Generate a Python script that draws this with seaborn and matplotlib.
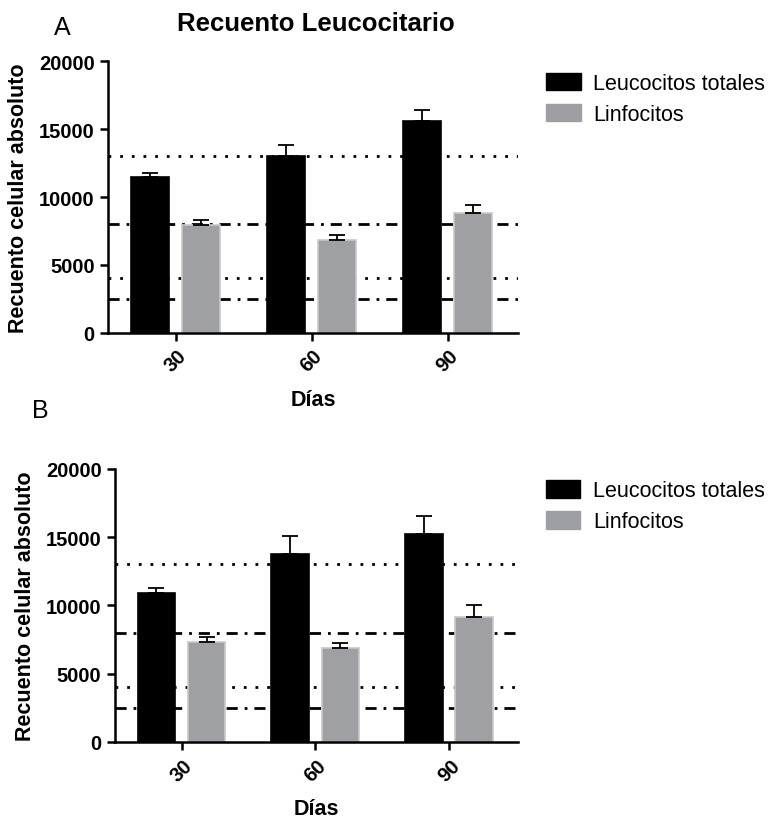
import numpy as np
import pandas as pd
import seaborn as sns
import matplotlib
matplotlib.use("Agg")
import matplotlib.pyplot as plt
from matplotlib.patches import Patch

# %% data
days = ["30", "60", "90"]
series = ["Leucocitos totales", "Linfocitos"]

leuco_a = [11500, 13000, 15600]
linfo_a = [7950, 6800, 8850]
leuco_a_err = [300, 850, 800]
linfo_a_err = [370, 420, 560]

leuco_b = [10900, 13800, 15250]
linfo_b = [7300, 6880, 9150]
leuco_b_err = [340, 1270, 1300]
linfo_b_err = [410, 390, 900]

dotted_refs = [13000, 4000]
dashdot_refs = [8000, 2500]

colors = ["#000000", "#9e9fa4"]

sns.set_style("white")
plt.rcParams["font.family"] = ["Liberation Sans", "DejaVu Sans"]
plt.rcParams["text.color"] = "k"
plt.rcParams["axes.labelcolor"] = "k"
plt.rcParams["xtick.color"] = "k"
plt.rcParams["ytick.color"] = "k"


def make_df(leuco, linfo, leuco_err, linfo_err):
    return pd.DataFrame(dict(
        dia=days * 2,
        serie=[series[0]] * 3 + [series[1]] * 3,
        valor=leuco + linfo,
        err=leuco_err + linfo_err,
    ))


def draw_panel(ax, df):
    for y in dotted_refs:
        ax.axhline(y, linestyle=(0, (1, 3.2)), color="k", lw=2.0, zorder=0)
    for y in dashdot_refs:
        ax.axhline(y, linestyle=(0, (4, 2.5, 1, 2.5)), color="k", lw=2.0, zorder=0)

    sns.barplot(
        data=df, x="dia", y="valor", hue="serie",
        palette=colors, width=0.75, gap=0.25,
        errorbar=None, edgecolor="k", linewidth=1.2,
        legend=False, ax=ax, zorder=2,
    )
    # error bars (upper only), positions taken from the bars
    bars = [p for p in ax.patches if p.get_height() > 0]
    bars = sorted(bars, key=lambda p: p.get_x())
    df_sorted = df.assign(order=[0, 2, 4, 1, 3, 5]).sort_values("order")
    for p, (_, row) in zip(bars, df_sorted.iterrows()):
        cx = p.get_x() + p.get_width() / 2
        ax.errorbar(cx, row.valor, yerr=[[0], [row.err]], color="k",
                    lw=1.3, capsize=6, capthick=1.3, zorder=3)
    for p in ax.patches:
        if p.get_facecolor()[0] > 0.3:
            p.set_edgecolor("#c8c8cc")

    ax.set_ylim(0, 20000)
    ax.set_xlim(-0.5, 2.52)
    ax.set_yticks(np.arange(0, 20001, 5000))
    sns.despine(ax=ax)
    for s in ["left", "bottom"]:
        ax.spines[s].set_linewidth(1.8)
        ax.spines[s].set_color("k")
    ax.tick_params(axis="both", which="major", direction="out", length=6,
                   width=1.8, color="k", labelsize=14.5, bottom=True, left=True)
    for lab in ax.get_yticklabels() + ax.get_xticklabels():
        lab.set_fontweight("bold")
    for lab in ax.get_xticklabels():
        lab.set_rotation(45)
        lab.set_ha("center")
    ax.set_xlabel("Días", fontsize=15.5, fontweight="bold", labelpad=10)
    ax.set_ylabel("Recuento celular absoluto", fontsize=15.5, fontweight="bold", labelpad=7)

    handles = [Patch(facecolor=c, edgecolor=c) for c in colors]
    ax.legend(handles, series, loc="upper left", bbox_to_anchor=(1.02, 1.03),
              frameon=False, fontsize=15.5, handlelength=1.6, handleheight=0.9,
              handletextpad=0.6, labelspacing=0.45)


fig = plt.figure(figsize=(7.75, 8.2), dpi=100)
ax_a = fig.add_axes([0.139, 0.593, 0.530, 0.331])
ax_b = fig.add_axes([0.148, 0.094, 0.521, 0.333])

draw_panel(ax_a, make_df(leuco_a, linfo_a, leuco_a_err, linfo_a_err))
draw_panel(ax_b, make_df(leuco_b, linfo_b, leuco_b_err, linfo_b_err))

fig.text(0.408, 0.971, "Recuento Leucocitario", fontsize=18.5, fontweight="bold", ha="center", va="center")
fig.text(0.070, 0.966, "A", fontsize=18, ha="left", va="center")
fig.text(0.041, 0.499, "B", fontsize=18, ha="left", va="center")

fig.savefig("out.png", dpi=100)
